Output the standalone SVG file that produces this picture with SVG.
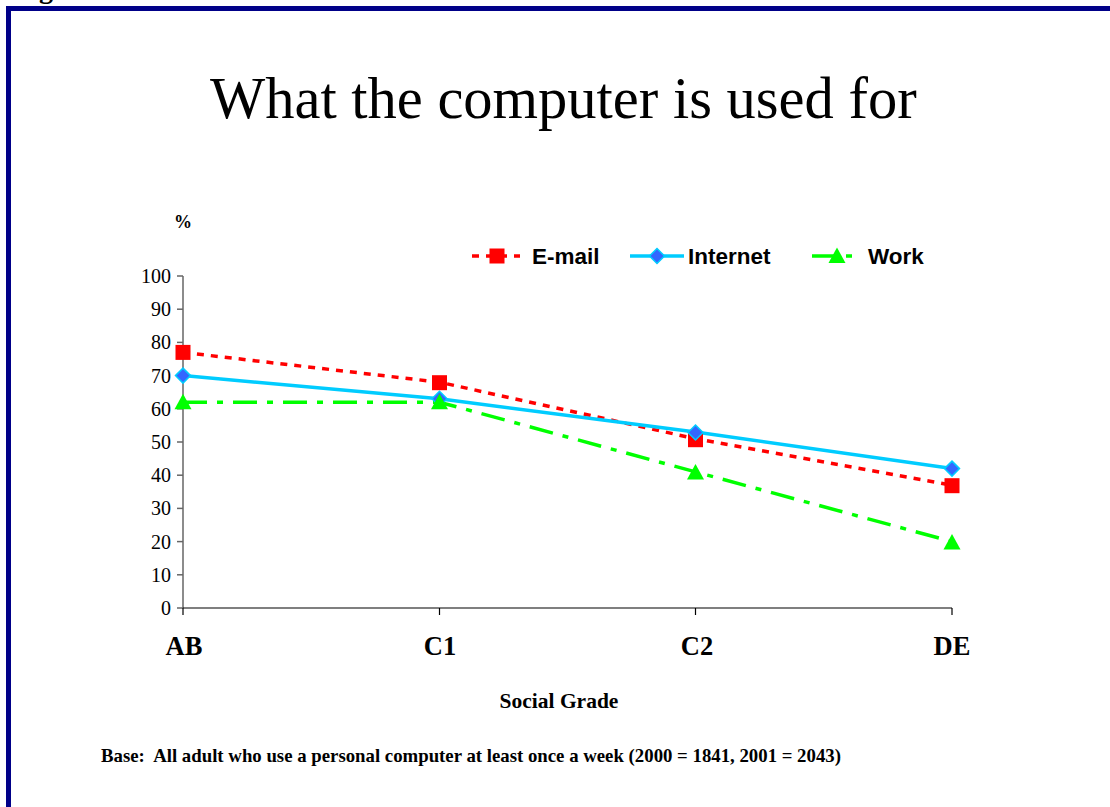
<svg xmlns="http://www.w3.org/2000/svg" width="1110" height="807" viewBox="0 0 1110 807">
<style>
.serif{font-family:"Liberation Serif","Times New Roman",serif;fill:#000}
.sans{font-family:"Liberation Sans",Arial,sans-serif;font-weight:bold;fill:#000}
.tick{font-size:20px;text-anchor:end}
.cat{font-size:26.5px;font-weight:bold;text-anchor:middle}
.email{fill:none;stroke:#FF0000;stroke-width:3.5;stroke-dasharray:7 7}
.internet{fill:none;stroke:#00CCFF;stroke-width:3.5}
.work{fill:none;stroke:#00FF00;stroke-width:3.5;stroke-dasharray:24 10 6 10}
.sq{fill:#FF0000}
.dia{fill:#3366FF;stroke:#00CCFF;stroke-width:1.5}
.tri{fill:#00FF00}
</style>
<defs>
<rect id="msq" class="sq" x="-7.5" y="-7.5" width="15" height="15"/>
<path id="mdia" class="dia" d="M0,-7.5 L7.5,0 L0,7.5 L-7.5,0 Z"/>
<path id="mtri" class="tri" d="M0,-8.5 L8.5,7 L-8.5,7 Z"/>
</defs>
<rect width="1110" height="807" fill="#fff"/>
<g id="frame">
<text class="serif" x="39" y="-2" font-size="28" font-weight="bold">g</text>
<rect x="6" y="6" width="1104" height="5" fill="#000088"/>
<rect x="6" y="6" width="5" height="801" fill="#000088"/>
</g>
<g id="title">
<text class="serif" x="210" y="118" font-size="58.5">What the computer is used for</text>
</g>
<g id="axes">
<text class="serif" x="183" y="228" font-size="18" font-weight="bold" text-anchor="middle">%</text>
<line x1="183" y1="276" x2="183" y2="608" stroke="#666" stroke-width="1.5"/>
<g stroke="#666" stroke-width="1.5">
<line x1="177" y1="276" x2="183" y2="276"/>
<line x1="177" y1="309.2" x2="183" y2="309.2"/>
<line x1="177" y1="342.4" x2="183" y2="342.4"/>
<line x1="177" y1="375.6" x2="183" y2="375.6"/>
<line x1="177" y1="408.8" x2="183" y2="408.8"/>
<line x1="177" y1="442" x2="183" y2="442"/>
<line x1="177" y1="475.2" x2="183" y2="475.2"/>
<line x1="177" y1="508.4" x2="183" y2="508.4"/>
<line x1="177" y1="541.6" x2="183" y2="541.6"/>
<line x1="177" y1="574.8" x2="183" y2="574.8"/>
<line x1="177" y1="608" x2="183" y2="608"/>
</g>
<g class="serif tick">
<text x="171" y="283">100</text>
<text x="171" y="316.2">90</text>
<text x="171" y="349.4">80</text>
<text x="171" y="382.6">70</text>
<text x="171" y="415.8">60</text>
<text x="171" y="449">50</text>
<text x="171" y="482.2">40</text>
<text x="171" y="515.4">30</text>
<text x="171" y="548.6">20</text>
<text x="171" y="581.8">10</text>
<text x="171" y="615">0</text>
</g>
<line x1="183" y1="608" x2="952" y2="608" stroke="#000" stroke-width="1.2"/>
<g stroke="#000" stroke-width="1.2">
<line x1="183" y1="608" x2="183" y2="615"/>
<line x1="439.5" y1="608" x2="439.5" y2="615"/>
<line x1="695.5" y1="608" x2="695.5" y2="615"/>
<line x1="952" y1="608" x2="952" y2="615"/>
</g>
<g class="serif cat">
<text x="184" y="655">AB</text>
<text x="440" y="655">C1</text>
<text x="697" y="655">C2</text>
<text x="952" y="655">DE</text>
</g>
<text class="serif" x="559" y="708" font-size="21.5" font-weight="bold" text-anchor="middle">Social Grade</text>
</g>
<g id="connectors">
<polyline class="email" points="183,352.4 439.5,382.2 695.5,438.7 952,485.2"/>
<polyline class="internet" points="183,375.6 439.5,398.8 695.5,432 952,468.6"/>
<polyline class="work" points="183,402.2 439.5,402.2 695.5,471.9 952,541.6"/>
</g>
<g id="email-markers">
<use href="#msq" x="183" y="352.4"/>
<use href="#msq" x="439.5" y="382.7"/>
<use href="#msq" x="695.5" y="439.7"/>
<use href="#msq" x="952" y="485.7"/>
</g>
<g id="internet-markers">
<use href="#mdia" x="183" y="375.6"/>
<use href="#mdia" x="439.5" y="398.8"/>
<use href="#mdia" x="695.5" y="432.5"/>
<use href="#mdia" x="952" y="468.6"/>
</g>
<g id="work-markers">
<use href="#mtri" x="183" y="402.2"/>
<use href="#mtri" x="439.5" y="402.2"/>
<use href="#mtri" x="695.5" y="472.4"/>
<use href="#mtri" x="952" y="542.6"/>
</g>
<g id="legend">
<line x1="472" y1="256" x2="520" y2="256" class="email"/>
<use href="#msq" x="497" y="256"/>
<text class="sans" x="532" y="264" font-size="22.5">E-mail</text>
<line x1="630" y1="256" x2="684" y2="256" class="internet"/>
<use href="#mdia" x="657" y="256"/>
<text class="sans" x="688" y="264" font-size="22.5">Internet</text>
<line x1="812" y1="256" x2="854" y2="256" class="work" style="stroke-dasharray:28 6 6 6"/>
<use href="#mtri" x="837" y="256"/>
<text class="sans" x="868" y="264" font-size="22.5">Work</text>
</g>
<g id="footnote">
<text class="serif" x="101" y="762" font-size="18.8" font-weight="bold">Base:&#160; All adult who use a personal computer at least once a week (2000 = 1841, 2001 = 2043)</text>
</g>
</svg>
